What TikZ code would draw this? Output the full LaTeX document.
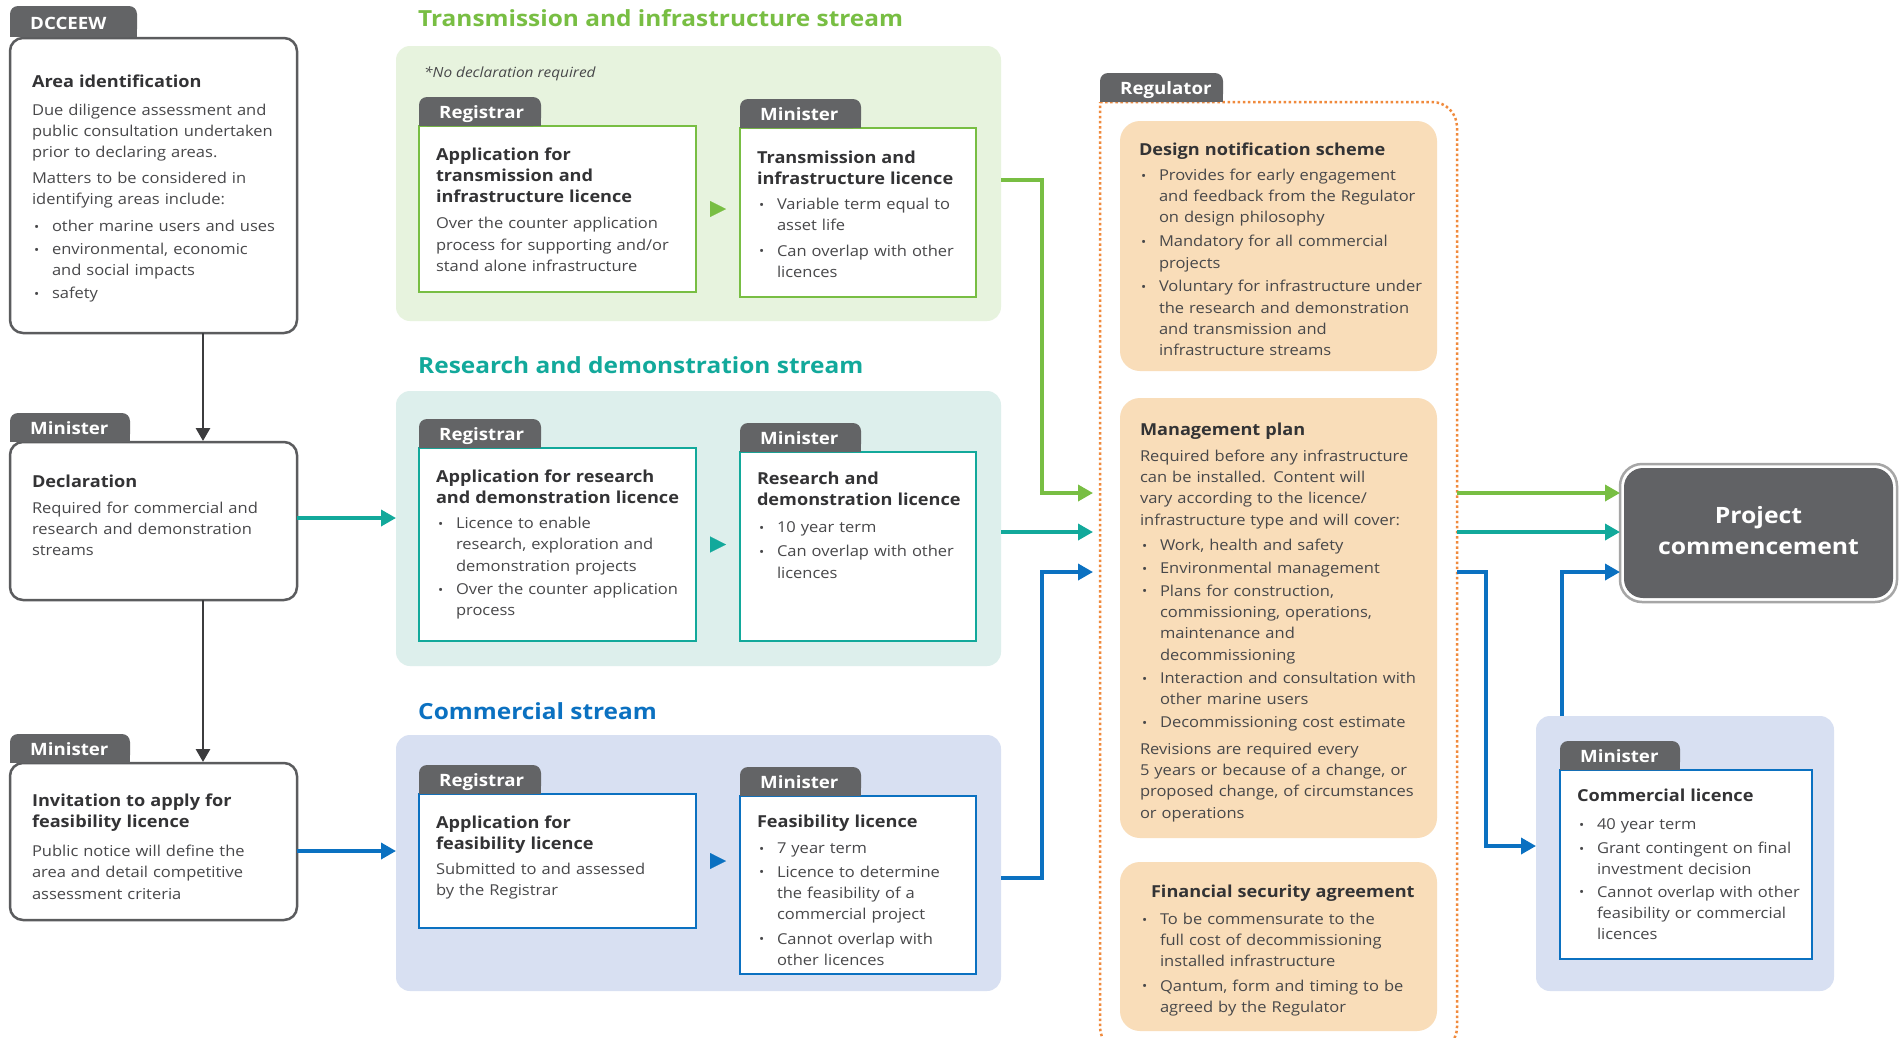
\documentclass[tikz,border=0pt]{standalone}
\usepackage{fontspec}
\setmainfont{Open Sans}[FakeStretch=1.1]
\usetikzlibrary{arrows.meta,calc}
\definecolor{tabgray}{HTML}{636466}
\definecolor{boxgray}{HTML}{5B5C5E}
\definecolor{txt}{HTML}{48484A}
\definecolor{ttl}{HTML}{333335}
\definecolor{cgreen}{HTML}{78BE43}
\definecolor{cgreenbg}{HTML}{E7F3DE}
\definecolor{cteal}{HTML}{12A99B}
\definecolor{ctealbg}{HTML}{DDEFEC}
\definecolor{cblue}{HTML}{0B71C1}
\definecolor{cbluebg}{HTML}{D8E0F2}
\definecolor{corange}{HTML}{F08A3C}
\definecolor{cpeach}{HTML}{F9DDB9}
\definecolor{cproj}{HTML}{616265}
\definecolor{arrgray}{HTML}{3C3C3E}
\newcommand\bodyf{\fontsize{15}{21.3}\selectfont\parindent=0pt}
\newcommand\ttlf{\fontsize{16.5}{21.3}\selectfont\bfseries\color{ttl}}
\newcommand\tabf{\fontsize{17}{19}\selectfont\bfseries}
\newcommand\strf{\fontsize{22.2}{25}\selectfont\bfseries}
\newcommand\projf{\fontsize{22.5}{31}\selectfont\bfseries}
\newcommand\nl{\newline}
\newcommand\ttl[1]{{\noindent\ttlf #1\par}}
\newcommand\bitem[2][1.5]{\par\vspace{#1pt}\hangindent=20pt\hangafter=1\noindent\makebox[20pt][l]{\kern2pt\raisebox{0.3pt}{\fontsize{12.5}{12}\selectfont •}}#2\par}
\newcommand\rbox[6]{\node[#1, anchor=north west, minimum width={#5-#3}, minimum height={#6-#4}] (#2) at (#3,#4) {};}
\newcommand\tabat[6]{%
  \fill[tabgray, rounded corners=8pt] (#2,#3) rectangle (#4,#5);
  \fill[tabgray] (#2,#5-9) rectangle (#4,#5);
  \node[tabtxt] (#1) at (#2+20,#5-8) {#6};}
\begin{document}
\begin{tikzpicture}[x=1pt,y=-1pt,
  lbox/.style={draw=boxgray, line width=2.5pt, fill=white, rounded corners=13pt, inner sep=0pt, outer sep=0pt},
  panel/.style={fill=#1, rounded corners=14pt, inner sep=0pt, outer sep=0pt},
  sbox/.style={draw=#1, line width=2pt, fill=white, inner sep=0pt, outer sep=0pt},
  peach/.style={fill=cpeach, rounded corners=20pt, inner sep=0pt, outer sep=0pt},
  ghost/.style={inner sep=0pt, outer sep=0pt},
  tabtxt/.style={anchor=base west, inner sep=0pt, text=white, font=\tabf},
  tb/.style={anchor=base west, inner sep=0pt, outer sep=0pt, align=left, text width=#1, text=txt, font=\bodyf},
  tb/.default=330,
  conn/.style={line width=3.5pt, -{Triangle[length=15pt,width=16pt]}},
  gconn/.style={conn, draw=cgreen},
  tconn/.style={conn, draw=cteal},
  bconn/.style={conn, draw=cblue},
  grayarr/.style={line width=2.8pt, draw=arrgray, -{Triangle[length=13pt,width=14pt]}},
  tri/.style={draw=#1, line width=0.1pt, -{Triangle[length=16pt,width=16pt,fill=#1]}},
  strtitle/.style={anchor=base west, inner sep=0pt, font=\strf}
]
\useasboundingbox (0,0) rectangle (1899,1037);
\clip (0,0) rectangle (1899,1037);
\fill[white] (0,0) rectangle (1899,1037);

% ---------- left column ----------
\rbox{lbox}{area}{10}{38}{297}{333}
\rbox{lbox}{decl}{10}{442}{297}{600}
\rbox{lbox}{inv}{10}{763}{297}{920}
\tabat{tabdc}{10}{6}{137}{37}{DCCEEW}
\tabat{tabm1}{10}{413}{130}{442}{Minister}
\tabat{tabm2}{10}{734}{130}{763}{Minister}

\node[tb] (areatxt) at (32,87) {\ttl{Area identification}\vspace{7pt}Due diligence assessment and\nl public consultation undertaken\nl prior to declaring areas.\par\vspace{4pt}Matters to be considered in\nl identifying areas include:\bitem[6]{other marine users and uses}\bitem{environmental, economic\nl and social impacts}\bitem{safety}};
\node[tb] (decltxt) at (32,487) {\ttl{Declaration}\vspace{5pt}Required for commercial and\nl research and demonstration\nl streams};
\node[tb] (invtxt) at (32,806) {\ttl{Invitation to apply for\nl feasibility licence}\vspace{8pt}Public notice will define the\nl area and detail competitive\nl assessment criteria};

% ---------- stream panels ----------
\rbox{panel=cgreenbg}{tpanel}{396}{46}{1001}{321}
\rbox{panel=ctealbg}{rdpanel}{396}{391}{1001}{666}
\rbox{panel=cbluebg}{cpanel}{396}{735}{1001}{991}
\node[strtitle, text=cgreen] (ttrans) at (418,26) {Transmission and infrastructure stream};
\node[strtitle, text=cteal] (trd) at (418,373) {Research and demonstration stream};
\node[strtitle, text=cblue] (tcom) at (418,719) {Commercial stream};
\node[anchor=base west, inner sep=0pt, font=\fontsize{14}{16}\selectfont\itshape, text=txt] (nodecl) at (424,77) {*No declaration required};

\rbox{sbox=cgreen}{tapp}{419}{126}{696}{292}
\rbox{sbox=cgreen}{tlic}{740}{128}{976}{297}
\rbox{sbox=cteal}{rapp}{419}{448}{696}{641}
\rbox{sbox=cteal}{rlic}{740}{452}{976}{641}
\rbox{sbox=cblue}{capp}{419}{794}{696}{928}
\rbox{sbox=cblue}{clic}{740}{796}{976}{974}
\tabat{tabr1}{419}{97}{541}{126}{Registrar}
\tabat{tabm3}{740}{99}{861}{128}{Minister}
\tabat{tabr2}{419}{419}{541}{448}{Registrar}
\tabat{tabm4}{740}{423}{861}{452}{Minister}
\tabat{tabr3}{419}{765}{541}{794}{Registrar}
\tabat{tabm5}{740}{767}{861}{796}{Minister}

\node[tb] (tapptxt) at (436,160) {\ttl{Application for\nl transmission and\nl infrastructure licence}\vspace{5pt}Over the counter application\nl process for supporting and/or\nl stand alone infrastructure};
\node[tb] (tlictxt) at (757,163) {\ttl{Transmission and\nl infrastructure licence}\bitem[4]{Variable term equal to\nl asset life}\bitem[4]{Can overlap with other\nl licences}};
\node[tb] (rapptxt) at (436,482) {\ttl{Application for research\nl and demonstration licence}\bitem[4]{Licence to enable\nl research, exploration and\nl demonstration projects}\bitem[2]{Over the counter application\nl process}};
\node[tb] (rlictxt) at (757,484) {\ttl{Research and\nl demonstration licence}\bitem[6]{10 year term}\bitem[3]{Can overlap with other\nl licences}};
\node[tb] (capptxt) at (436,828) {\ttl{Application for\nl feasibility licence}\vspace{4pt}Submitted to and assessed\nl by the Registrar};
\node[tb] (clictxt) at (757,827) {\ttl{Feasibility licence}\bitem[5]{7 year term}\bitem[2.5]{Licence to determine\nl the feasibility of a\nl commercial project}\bitem[3]{Cannot overlap with\nl other licences}};

% ---------- regulator ----------
\rbox{ghost}{reg}{1100}{102}{1457}{1052}
\draw[corange, line width=2.5pt, dash pattern=on 2.5pt off 2.6pt] (reg.north west) [rounded corners=25pt] -- (reg.north east) -- (reg.south east) -- (reg.south west) -- (reg.north west);
\tabat{tabreg}{1100}{73}{1223}{102}{Regulator}
\rbox{peach}{dns}{1120}{121}{1437}{371}
\rbox{peach}{mp}{1120}{398}{1437}{838}
\rbox{peach}{fsa}{1120}{862}{1437}{1031}
\node[tb] (dnstxt) at (1139,155) {\ttl{Design notification scheme}\bitem[4]{Provides for early engagement\nl and feedback from the Regulator\nl on design philosophy}\bitem[2.5]{Mandatory for all commercial\nl projects}\bitem[2.5]{Voluntary for infrastructure under\nl the research and demonstration\nl and transmission and\nl infrastructure streams}};
\node[tb] (mptxt) at (1140,435) {\ttl{Management plan}\vspace{5pt}Required before any infrastructure\nl can be installed. Content will\nl vary according to the licence/\nl infrastructure type and will cover:\bitem[4]{Work, health and safety}\bitem[2]{Environmental management}\bitem[1]{Plans for construction,\nl commissioning, operations,\nl maintenance and\nl decommissioning}\bitem[2]{Interaction and consultation with\nl other marine users}\bitem[2]{Decommissioning cost estimate}\par\vspace{5pt}Revisions are required every\nl 5 years or because of a change, or\nl proposed change, of circumstances\nl or operations};
\node[tb] (fsatxt) at (1140,897) {\ttl{\hspace*{11pt}Financial security agreement}\bitem[6]{To be commensurate to the\nl full cost of decommissioning\nl installed infrastructure}\bitem[3]{Qantum, form and timing to be\nl agreed by the Regulator}};

% ---------- right side ----------
\node[draw=black!35, line width=2.5pt, fill=white, rounded corners=22pt, inner sep=0pt, outer sep=0pt, anchor=north west, minimum width=277, minimum height=138] (proj) at (1620,464) {};
\fill[cproj, rounded corners=19pt] ([shift={(4,4)}]proj.north west) rectangle ([shift={(-4,-4)}]proj.south east);
\node[font=\projf, text=white, align=center, inner sep=0pt] (projtxt) at ([yshift=2pt]proj.center) {Project\\commencement};

\rbox{panel=cbluebg}{clpanel}{1536}{716}{1834}{991}
\rbox{sbox=cblue}{clbox}{1560}{770}{1812}{959}
\tabat{tabm6}{1560}{741}{1680}{770}{Minister}
\node[tb] (clboxtxt) at (1577,801) {\ttl{Commercial licence}\bitem[7]{40 year term}\bitem[3]{Grant contingent on final\nl investment decision}\bitem[1]{Cannot overlap with other\nl feasibility or commercial\nl licences}};

% ---------- connectors ----------
\draw[grayarr, shorten >=1pt] ([xshift=49.5pt]area.south) -- ([xshift=49.5pt]decl.north);
\draw[grayarr, shorten >=1pt] ([xshift=49.5pt]decl.south) -- ([xshift=49.5pt]inv.north);
\coordinate (declout) at ([yshift=3pt]decl.east);
\draw[tconn] (declout) -- (declout -| rdpanel.west);
\coordinate (invout) at ([yshift=-9.5pt]inv.east);
\draw[bconn] (invout) -- (invout -| cpanel.west);

\path (tapp.east) -- (tapp.east -| tlic.west) coordinate[midway] (tmid);
\path (rapp.east) -- (rapp.east -| rlic.west) coordinate[midway] (rmid);
\path (capp.east) -- (capp.east -| clic.west) coordinate[midway] (cmid);
\draw[tri=cgreen] ([xshift=-8pt]tmid) -- ([xshift=8pt]tmid);
\draw[tri=cteal] ([xshift=-8pt]rmid) -- ([xshift=8pt]rmid);
\draw[tri=cblue] ([xshift=-8pt]cmid) -- ([xshift=8pt]cmid);

\coordinate (lvG) at (1070,493);
\coordinate (lvT) at (1070,532);
\coordinate (lvB) at (1070,572);
\coordinate (gout) at ([yshift=3.5pt]tpanel.east);
\coordinate (tout) at ([yshift=-3.5pt]rdpanel.east);
\coordinate (bout) at ([yshift=-15pt]cpanel.east);
\draw[gconn, shorten >=7pt] (gout) -- ++(41,0) |- (reg.west |- lvG);
\draw[tconn, shorten >=7pt] (tout) -- (tout -| reg.west);
\draw[bconn, shorten >=7pt] (bout) -- ++(41,0) |- (reg.west |- lvB);

\draw[gconn] (reg.east |- lvG) -- (proj.west |- lvG);
\draw[tconn] (reg.east |- lvT) -- (proj.west |- lvT);
\coordinate (clin) at ([yshift=7.5pt]clpanel.west);
\draw[bconn] (reg.east |- lvB) -- ++(29,0) |- (clin);
\draw[bconn] ([xshift=-123pt]clpanel.north) |- (proj.west |- lvB);
\end{tikzpicture}
\end{document}
